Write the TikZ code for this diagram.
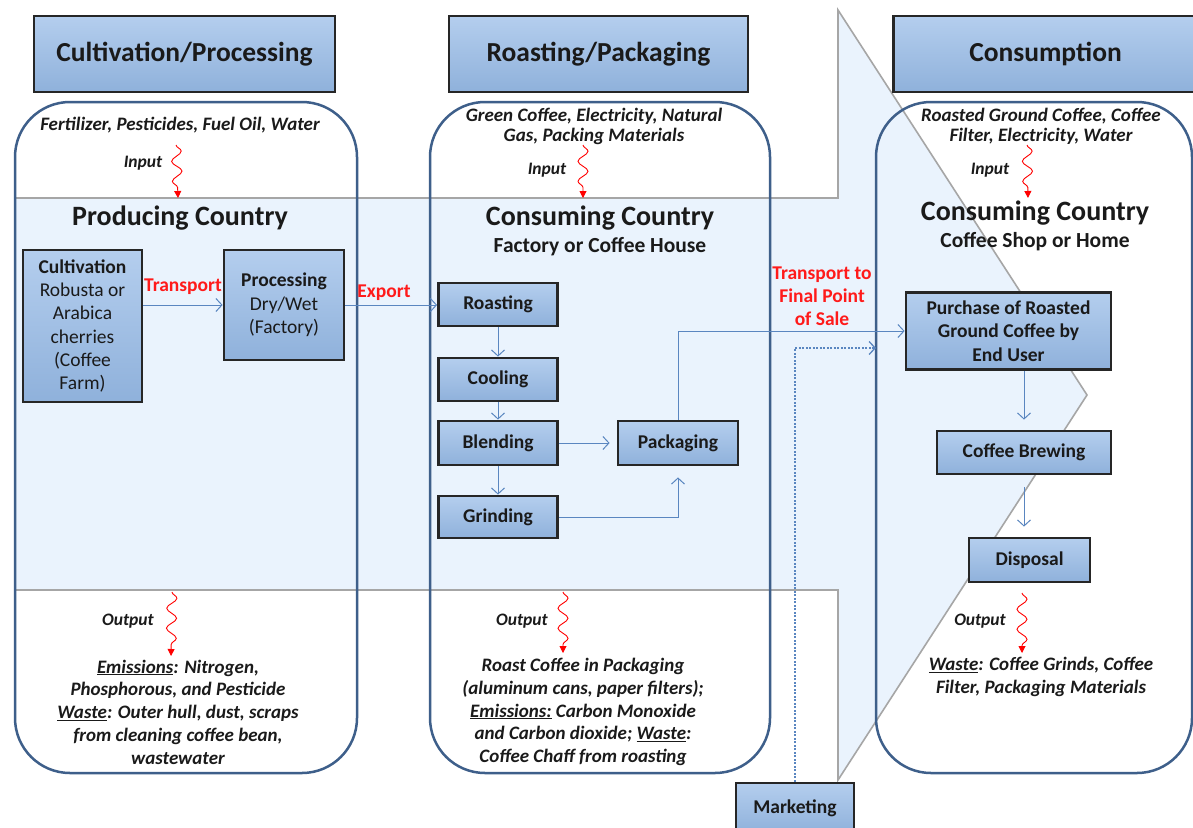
\documentclass[tikz,border=0pt]{standalone}
\usepackage{fontspec}
\setmainfont{Carlito}
\usetikzlibrary{arrows.meta,decorations.pathmorphing}
\definecolor{bandc}{HTML}{EAF3FD}
\definecolor{framec}{HTML}{3E5F8A}
\definecolor{boxtop}{HTML}{B4CEEE}
\definecolor{boxbot}{HTML}{8FB1DB}
\definecolor{flowc}{HTML}{5A86C0}
\definecolor{lblc}{HTML}{FF1A1A}
\definecolor{txtc}{HTML}{1A1A1A}
\begin{document}
\begin{tikzpicture}[x=1pt,y=-1pt,
  blk/.style={draw=black!85, line width=2.8pt, top color=boxtop, bottom color=boxbot, align=center, inner sep=0pt, text=txtc},
  hdr/.style={blk, font=\bfseries\fontsize{27.5}{30}\selectfont},
  proc/.style={blk, font=\bfseries\fontsize{19.5}{23.3}\selectfont},
  zone/.style={draw=framec, line width=2.5pt, rounded corners=55pt},
  flow/.style={draw=flowc, line width=1pt, -{Straight Barb[length=6pt,width=13pt]}},
  dotflow/.style={flow, line width=1.3pt, dash pattern=on 2pt off 1.5pt},
  squig/.style={draw=red, line width=0.9pt, decorate, decoration={snake, amplitude=5pt, segment length=20pt, post length=6pt}, -{Triangle[length=7pt,width=7pt]}},
  iotxt/.style={font=\bfseries\itshape\fontsize{19}{20}\selectfont, align=center, text=txtc, inner sep=0pt},
  outtxt/.style={iotxt, font=\bfseries\itshape\fontsize{19}{22.8}\selectfont},
  iolbl/.style={font=\bfseries\itshape\fontsize{17.5}{18}\selectfont, text=txtc, inner sep=0pt},
  ttl/.style={font=\bfseries\fontsize{28}{30}\selectfont, text=txtc, inner sep=0pt},
  subttl/.style={font=\bfseries\fontsize{21.5}{24}\selectfont, text=txtc, inner sep=0pt},
  redlbl/.style={font=\bfseries\fontsize{19.5}{23}\selectfont, text=lblc, align=center, inner sep=0pt}
]
\clip (0,0) rectangle (1193,827);
\fill[white] (0,0) rectangle (1193,827);
% background arrow band
\fill[bandc] (15,198) -- (838,198) -- (838,10) -- (1087,395) -- (838,780) -- (838,590) -- (15,590) -- cycle;
\draw[gray!70, line width=1.6pt] (15,198) -- (838,198) -- (838,10) -- (1087,395) -- (838,780) -- (838,590) -- (15,590);

% zones
\draw[zone] (15,102) rectangle (357,773);
\draw[zone] (430,102) rectangle (770,773);
\draw[zone] (876,102) rectangle (1192,773);

% headers
\node[hdr, minimum width=301pt, minimum height=76pt] (h1) at (184.5,54) {Cultivation/Processing};
\node[hdr, minimum width=299pt, minimum height=76pt] (h2) at (598.5,54) {Roasting/Packaging};
\node[hdr, minimum width=304pt, minimum height=76pt] (h3) at (1045.5,54) {Consumption};

% inputs
\node[iotxt] (in1) at (180,125) {Fertilizer, Pesticides, Fuel Oil, Water};
\node[iotxt] (in2) at (594,126) {Green Coffee, Electricity, Natural\\Gas, Packing Materials};
\node[iotxt] (in3) at (1041,126) {Roasted Ground Coffee, Coffee\\Filter, Electricity, Water};
\node[iolbl] (il1) at (143,163) {Input};
\node[iolbl] (il2) at (547,170) {Input};
\node[iolbl] (il3) at (990,170) {Input};
\coordinate (s1a) at (176,145); \coordinate (s1b) at (178,198);
\coordinate (s2a) at (583,145); \coordinate (s2b) at (583,198);
\coordinate (s3a) at (1027,145); \coordinate (s3b) at (1028,198);
\draw[squig] (s1a) -- (s1b);
\draw[squig] (s2a) -- (s2b);
\draw[squig] (s3a) -- (s3b);

% titles
\node[ttl] (t1) at (180,218) {Producing Country};
\node[ttl] (t2) at (600,218) {Consuming Country};
\node[subttl] (st2) at (600,247) {Factory or Coffee House};
\node[ttl] (t3) at (1035,213) {Consuming Country};
\node[subttl] (st3) at (1035,242) {Coffee Shop or Home};

% process boxes
\node[proc, minimum width=119pt, minimum height=152pt] (cult) at (82.5,326)
  {Cultivation\\\mdseries Robusta or\\\mdseries Arabica\\\mdseries cherries\\\mdseries (Coffee\\\mdseries Farm)};
\node[proc, minimum width=120pt, minimum height=110pt] (procs) at (284,305)
  {Processing\\\mdseries Dry/Wet\\\mdseries (Factory)};
\node[proc, minimum width=119pt, minimum height=43pt] (roast) at (498,304.5) {Roasting};
\node[proc, minimum width=119pt, minimum height=43pt] (cool) at (498,379.5) {Cooling};
\node[proc, minimum width=119pt, minimum height=44pt] (blend) at (498,443) {Blending};
\node[proc, minimum width=119pt, minimum height=42pt] (grind) at (498,517) {Grinding};
\node[proc, minimum width=120pt, minimum height=44pt] (pack) at (678,443) {Packaging};
\node[proc, minimum width=205pt, minimum height=77pt] (purch) at (1008.5,331) {Purchase of Roasted\\Ground Coffee by\\End User};
\node[proc, minimum width=174pt, minimum height=43pt] (brew) at (1024,452.5) {Coffee Brewing};
\node[proc, minimum width=121pt, minimum height=44pt] (disp) at (1029.5,560) {Disposal};
\node[proc, minimum width=118pt, minimum height=50pt] (mkt) at (795,808) {\raisebox{3pt}{Marketing}};

% connectors
\draw[flow] (cult.east |- procs.west) -- (procs.west);
\node[redlbl] (ltr) at (183,287) {Transport};
\draw[flow] (procs.east) -- (roast.west |- procs.east);
\node[redlbl] (lex) at (384,293) {Export};
\draw[flow] (roast.south) -- (cool.north);
\draw[flow] (cool.south) -- (blend.north);
\draw[flow] (blend.south) -- (grind.north);
\draw[flow, shorten >=7pt] (blend.east) -- (pack.west);
\draw[flow, shorten >=11pt] (grind.east) -| (pack.south);
\draw[flow] (pack.north) |- (purch.west);
\node[redlbl] (lfin) at (822,296) {Transport to\\Final Point\\of Sale};
\coordinate (mktend) at (876,348);
\draw[dotflow] (mkt.north) |- (mktend);
\draw[flow, shorten >=10pt] (brew.north |- purch.south) -- (brew.north);
\draw[flow, shorten <=12pt, shorten >=10pt] (brew.south) -- (brew.south |- disp.north);

% outputs
\coordinate (o1a) at (172,592); \coordinate (o1b) at (171,656);
\coordinate (o2a) at (563,592); \coordinate (o2b) at (563,653);
\coordinate (o3a) at (1022,593); \coordinate (o3b) at (1022,653);
\draw[squig] (o1a) -- (o1b);
\draw[squig] (o2a) -- (o2b);
\draw[squig] (o3a) -- (o3b);
\node[iolbl] (ol1) at (128,621) {Output};
\node[iolbl] (ol2) at (522,621) {Output};
\node[iolbl] (ol3) at (980,621) {Output};
\node[outtxt] (out1) at (178,712) {\underline{Emissions}: Nitrogen,\\Phosphorous, and Pesticide\\\underline{Waste}: Outer hull, dust, scraps\\from cleaning coffee bean,\\wastewater};
\node[outtxt] (out2) at (583,712) {Roast Coffee in Packaging\\(aluminum cans, paper filters);\\\underline{Emissions:} Carbon Monoxide\\and Carbon dioxide; \underline{Waste}:\\Coffee Chaff from roasting};
\node[outtxt] (out3) at (1041,677) {\underline{Waste}: Coffee Grinds, Coffee\\Filter, Packaging Materials};
\end{tikzpicture}
\end{document}
